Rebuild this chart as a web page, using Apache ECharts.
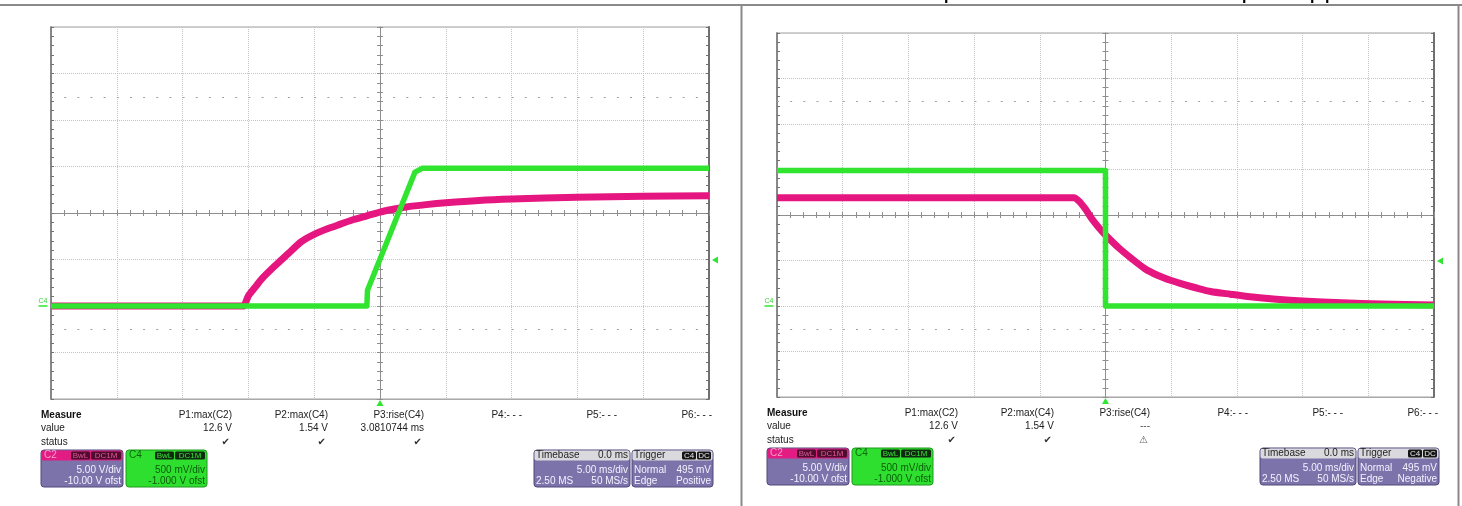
<!DOCTYPE html>
<html><head><meta charset="utf-8">
<script src="https://cdn.jsdelivr.net/npm/echarts@6/dist/echarts.min.js"></script>
<style>html,body{margin:0;padding:0;background:#fff;}#c{width:1462px;height:506px;}</style>
</head><body><div id="c"></div>
<script>
// ---------- data read from the two scope captures (time in ms, volts) ----------
const upTimeC2   = [-25, -11, -10.4, -10.0, -9.5, -9.0, -8.0, -7.0, -6.0, -5.0, -4.0, -3.0, -2.0, -1.0, 0, 1, 2, 3.5, 5, 7.5, 10, 15, 20, 25];
const upVoltC2   = [0, 0, 0, 1.1, 2.0, 2.9, 4.3, 5.6, 6.9, 7.7, 8.3, 8.8, 9.3, 9.7, 10.1, 10.4, 10.65, 10.9, 11.1, 11.35, 11.5, 11.7, 11.8, 11.85];
const upTimeC4   = [-25, -1.0, -0.95, 2.66, 3.2, 25];
const upVoltC4   = [0, 0, 0.17, 1.44, 1.48, 1.48];
const downTimeC2 = [-25, -3, -2.4, -2.0, -1.5, -1.0, -0.5, 0, 1, 2, 3, 4, 5, 6, 7, 8, 9.5, 11, 13, 15, 18, 21, 25];
const downVoltC2 = [11.9, 11.9, 11.9, 11.5, 10.6, 9.5, 8.6, 7.8, 6.4, 5.2, 4.1, 3.35, 2.8, 2.35, 1.95, 1.6, 1.3, 1.02, 0.75, 0.55, 0.35, 0.22, 0.12];
const downTimeC4 = [-25, 0, 0, 25];
const downVoltC4 = [1.49, 1.49, 0, 0];

// scope settings
const msPerDiv = 5;
const c2VoltsPerDiv = 5, c2Offset = -10;
const c4VoltsPerDiv = 0.5, c4Offset = -1;
const triggerLevel = 0.495;

// texts
const measureHeads = ['P1:max(C2)', 'P2:max(C4)', 'P3:rise(C4)', 'P4:- - -', 'P5:- - -', 'P6:- - -'];
const upValues = ['12.6 V', '1.54 V', '3.0810744 ms'];
const downValues = ['12.6 V', '1.54 V', '---'];
const upStatus = ['\u2714', '\u2714', '\u2714'];
const downStatus = ['\u2714', '\u2714', '\u26A0'];
const c2Box = ['C2', 'BwL', 'DC1M', '5.00 V/div', '-10.00 V ofst'];
const c4Box = ['C4', 'BwL', 'DC1M', '500 mV/div', '-1.000 V ofst'];
const timebaseBox = ['Timebase', '0.0 ms', '5.00 ms/div', '2.50 MS', '50 MS/s'];
const upTrigger = ['Trigger', 'C4', 'DC', 'Normal', '495 mV', 'Edge', 'Positive'];
const downTrigger = ['Trigger', 'C4', 'DC', 'Normal', '495 mV', 'Edge', 'Negative'];

// ---------- build ----------
const zip = (a, b) => a.map((v, i) => [v, b[i]]);
const xMin = -5 * msPerDiv, xMax = 5 * msPerDiv;
const c2Min = -4 * c2VoltsPerDiv - c2Offset, c2Max = 4 * c2VoltsPerDiv - c2Offset;
const c4Min = -4 * c4VoltsPerDiv - c4Offset, c4Max = 4 * c4VoltsPerDiv - c4Offset;

const MAG = '#e5167f', GRN = '#30e430';
const grids = [
  {left: 51, top: 27, width: 658, height: 372},
  {left: 777, top: 33, width: 657, height: 364}
];
const xAxes = [], yAxes = [], series = [];
const gridLine = {show: true, lineStyle: {color: '#c4c4c4', type: 'dotted', width: 1}};
const noLabel = {show: false};

grids.forEach((g, gi) => {
  const W = g.width, H = g.height;
  const base = {gridIndex: gi, type: 'value', min: xMin, max: xMax, interval: msPerDiv, axisLabel: noLabel};
  xAxes.push(Object.assign({}, base, {position: 'bottom',
    axisLine: {show: true, onZero: false, lineStyle: {color: '#a9a9a9', width: 1}},
    axisTick: {show: false}, splitLine: gridLine}));
  xAxes.push(Object.assign({}, base, {position: 'bottom', offset: -H / 2,
    axisLine: {show: true, onZero: false, lineStyle: {color: '#8e8e8e', width: 1}},
    axisTick: {show: true, length: 3, lineStyle: {color: '#8e8e8e'}},
    minorTick: {show: true, splitNumber: 5, length: 3, lineStyle: {color: '#8e8e8e'}},
    splitLine: {show: false}}));
  xAxes.push(Object.assign({}, base, {position: 'bottom', offset: -H / 2,
    axisLine: {show: false, onZero: false},
    axisTick: {show: true, inside: true, length: 3, lineStyle: {color: '#8e8e8e'}},
    minorTick: {show: true, splitNumber: 5, length: 3, lineStyle: {color: '#8e8e8e'}},
    splitLine: {show: false}}));

  const c2 = {gridIndex: gi, type: 'value', min: c2Min, max: c2Max, interval: c2VoltsPerDiv, axisLabel: noLabel};
  const c4 = {gridIndex: gi, type: 'value', min: c4Min, max: c4Max, interval: c4VoltsPerDiv, axisLabel: noLabel};
  yAxes.push(Object.assign({}, c2, {position: 'left',
    axisLine: {show: true, onZero: false, lineStyle: {color: '#707070', width: 1.5}},
    axisTick: {show: true, inside: true, length: 3, lineStyle: {color: '#707070'}},
    minorTick: {show: true, splitNumber: 5, length: 3, lineStyle: {color: '#707070'}},
    splitLine: gridLine}));
  yAxes.push(Object.assign({}, c4, {position: 'right',
    axisLine: {show: true, onZero: false, lineStyle: {color: '#707070', width: 2}},
    axisTick: {show: true, inside: true, length: 3, lineStyle: {color: '#707070'}},
    minorTick: {show: true, splitNumber: 5, length: 3, lineStyle: {color: '#707070'}},
    splitLine: {show: false}}));
  yAxes.push(Object.assign({}, c4, {position: 'left', offset: -W / 2,
    axisLine: {show: true, onZero: false, lineStyle: {color: '#8e8e8e', width: 1}},
    axisTick: {show: true, length: 3, lineStyle: {color: '#8e8e8e'}},
    minorTick: {show: true, splitNumber: 5, length: 3, lineStyle: {color: '#8e8e8e'}},
    splitLine: {show: false}}));
  yAxes.push(Object.assign({}, c4, {position: 'left', offset: -W / 2,
    axisLine: {show: false, onZero: false},
    axisTick: {show: true, inside: true, length: 3, lineStyle: {color: '#8e8e8e'}},
    minorTick: {show: true, splitNumber: 5, length: 3, lineStyle: {color: '#8e8e8e'}},
    splitLine: {show: false}}));
});

function traces(gi, tC2, vC2, tC4, vC4) {
  const xi = gi * 3, yC2 = gi * 4, yC4 = gi * 4 + 1;
  series.push({type: 'line', xAxisIndex: xi, yAxisIndex: yC2, data: zip(tC2, vC2),
    showSymbol: false, smooth: 0.25, z: 3, animation: false,
    lineStyle: {color: MAG, width: 7, join: 'round'}});
  series.push({type: 'line', xAxisIndex: xi, yAxisIndex: yC4, data: zip(tC4, vC4),
    showSymbol: false, z: 4, animation: false,
    lineStyle: {color: GRN, width: 5.5, join: 'round'},
    markLine: {silent: true, symbol: ['none', 'none'], animation: false, label: {show: false},
      lineStyle: {color: '#a0a0a0', type: [2, 11.16], width: 1},
      data: [{yAxis: c4Min + 1.5 * c4VoltsPerDiv}, {yAxis: c4Max - 1.5 * c4VoltsPerDiv}]},
    markPoint: {silent: true, animation: false, label: {show: false}, itemStyle: {color: GRN},
      data: [
        {coord: [0, c4Min], symbol: 'triangle', symbolSize: [7, 6], symbolOffset: [0, 4]},
        {coord: [xMax, triggerLevel], symbol: 'triangle', symbolSize: [7, 6], symbolRotate: 90, symbolOffset: [6, 0]},
        {coord: [xMin, 0], symbol: 'rect', symbolSize: [9, 1.5], symbolOffset: [-8, 0],
          label: {show: true, formatter: 'C4', position: 'top', distance: 1, fontSize: 7, color: '#3bd03b'}}
      ]}});
}
traces(0, upTimeC2, upVoltC2, upTimeC4, upVoltC4);
traces(1, downTimeC2, downVoltC2, downTimeC4, downVoltC4);

// ---------- info panel graphics ----------
const F = '"Liberation Sans", Arial, sans-serif';
const G = [];
function txt(x, y, s, o) {
  o = o || {};
  G.push({type: 'text', x: x, y: y, silent: true, z: 10,
    style: {text: s, font: (o.font || ('10px ' + F)), fill: o.fill || '#222',
      align: o.align || 'left', verticalAlign: 'middle'}});
}
function rect(x, y, w, h, fill, stroke, r) {
  G.push({type: 'rect', silent: true, z: 9, shape: {x: x, y: y, width: w, height: h, r: r || 0},
    style: {fill: fill, stroke: stroke || null, lineWidth: stroke ? 1 : 0}});
}
function tag(x, y, w, s, bg, fg) {
  rect(x, y, w, 8, bg, null, 1.5);
  txt(x + w / 2, y + 4.5, s, {align: 'center', fill: fg, font: '8px ' + F});
}
const PUR = '#7c73aa', PURB = '#50497a', HDR = '#dadade';

function panel(gi, values, status, trig) {
  const g = grids[gi], L = g.left, B = g.top + g.height;
  const y1 = B + 16, y2 = B + 29, y3 = B + 43;
  txt(L - 10, y1, 'Measure', {font: 'bold 10px ' + F, fill: '#111'});
  txt(L - 10, y2, 'value');
  txt(L - 10, y3, 'status');
  const ends = [181, 277, 373, 471, 566, 661];
  measureHeads.forEach((h, i) => txt(L + ends[i], y1, h, {align: 'right'}));
  values.forEach((v, i) => txt(L + ends[i], y2, v, {align: 'right', fill: v === '---' ? '#555' : '#222'}));
  status.forEach((s, i) => txt(L + ends[i] - 2, y3, s, {align: 'right', fill: s === '\u26A0' ? '#666' : '#333',
    font: '10px "DejaVu Sans", sans-serif'}));

  const by = B + 51, bh = 37;
  // C2 box
  let x0 = L - 10, w = 82;
  rect(x0, by, w, bh, PUR, PURB, 3);
  rect(x0 + 0.5, by + 0.5, w - 1, 10, '#e21c82', null, 2);
  txt(x0 + 3, by + 5.5, c2Box[0], {fill: '#f7a0cc'});
  tag(x0 + 30, by + 1.5, 19, c2Box[1], '#4e0d2c', '#e3589e');
  tag(x0 + 50, by + 1.5, 30, c2Box[2], '#4e0d2c', '#e3589e');
  txt(x0 + w - 2, by + 20, c2Box[3], {align: 'right', fill: '#f4f2ff'});
  txt(x0 + w - 2, by + 31, c2Box[4], {align: 'right', fill: '#f4f2ff'});
  // C4 box
  x0 = L + 75; w = 81;
  rect(x0, by, w, bh, '#2fdf2f', '#1f9a1f', 3);
  txt(x0 + 3, by + 5.5, c4Box[0], {fill: '#0d6a0d'});
  tag(x0 + 29, by + 1.5, 19, c4Box[1], '#0f2a0f', '#38e038');
  tag(x0 + 49, by + 1.5, 30, c4Box[2], '#0f2a0f', '#38e038');
  txt(x0 + w - 2, by + 20, c4Box[3], {align: 'right', fill: '#0a5c0a'});
  txt(x0 + w - 2, by + 31, c4Box[4], {align: 'right', fill: '#0a5c0a'});
  // Timebase
  x0 = L + 483; w = 96;
  rect(x0, by, w, bh, PUR, PURB, 3);
  rect(x0 + 0.5, by + 0.5, w - 1, 10, HDR, null, 2);
  txt(x0 + 2, by + 5.5, timebaseBox[0]);
  txt(x0 + w - 2, by + 5.5, timebaseBox[1], {align: 'right'});
  txt(x0 + w - 2, by + 20, timebaseBox[2], {align: 'right', fill: '#f4f2ff'});
  txt(x0 + 2, by + 31, timebaseBox[3], {fill: '#f4f2ff'});
  txt(x0 + w - 2, by + 31, timebaseBox[4], {align: 'right', fill: '#f4f2ff'});
  // Trigger
  x0 = L + 581; w = 81;
  rect(x0, by, w, bh, PUR, PURB, 3);
  rect(x0 + 0.5, by + 0.5, w - 1, 10, HDR, null, 2);
  txt(x0 + 2, by + 5.5, trig[0]);
  tag(x0 + w - 31, by + 1.5, 14, trig[1], '#151515', '#e8e8e8');
  tag(x0 + w - 16, by + 1.5, 14, trig[2], '#151515', '#e8e8e8');
  txt(x0 + 2, by + 20, trig[3], {fill: '#f4f2ff'});
  txt(x0 + w - 2, by + 20, trig[4], {align: 'right', fill: '#f4f2ff'});
  txt(x0 + 2, by + 31, trig[5], {fill: '#f4f2ff'});
  txt(x0 + w - 2, by + 31, trig[6], {align: 'right', fill: '#f4f2ff'});
}
panel(0, upValues, upStatus, upTrigger);
panel(1, downValues, downStatus, downTrigger);

// page frame (table borders) and cut-off caption text at the very top
G.push({type: 'line', silent: true, z: 10, shape: {x1: 0, y1: 5, x2: 1462, y2: 5}, style: {stroke: '#8a8a8a', lineWidth: 2}});
G.push({type: 'line', silent: true, z: 10, shape: {x1: 741.5, y1: 5, x2: 741.5, y2: 506}, style: {stroke: '#8a8a8a', lineWidth: 2}});
G.push({type: 'line', silent: true, z: 10, shape: {x1: 1458.5, y1: 5, x2: 1458.5, y2: 506}, style: {stroke: '#8a8a8a', lineWidth: 2}});
[949, 1247, 1315, 1330].forEach(x => G.push({type: 'text', x: x, y: -12, silent: true, z: 10,
  style: {text: 'p', font: 'bold 16px ' + F, fill: '#000', align: 'center', verticalAlign: 'top'}}));

const chart = echarts.init(document.getElementById('c'), null, {renderer: 'canvas'});
chart.setOption({
  animation: false,
  backgroundColor: '#fff',
  grid: grids.map(g => Object.assign({show: true, borderColor: '#d0d0d0', borderWidth: 2, backgroundColor: '#fff'}, g)),
  xAxis: xAxes,
  yAxis: yAxes,
  series: series,
  graphic: G
});
</script>
</body></html>
